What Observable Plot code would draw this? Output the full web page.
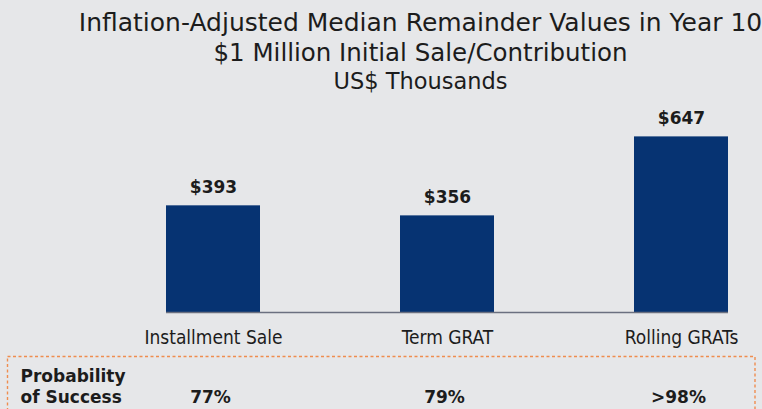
<!DOCTYPE html>
<html>
<head>
<meta charset="utf-8">
<script src="https://cdn.jsdelivr.net/npm/d3@7"></script>
<script src="https://cdn.jsdelivr.net/npm/@observablehq/plot@0.6"></script>
<style>
  html, body { margin: 0; padding: 0; background: #e6e7e9; overflow: hidden; }
  #chart { width: 762px; height: 409px; }
</style>
</head>
<body>
<div id="chart"></div>
<script>
const titleLines = ["Inflation-Adjusted Median Remainder Values in Year 10", "$1 Million Initial Sale/Contribution", "US$ Thousands"];
const categories = ["Installment Sale", "Term GRAT", "Rolling GRATs"];
const values = [393, 356, 647];
const probabilities = ["77%", "79%", ">98%"];
const probabilityLabel = "Probability\nof Success";

const data = categories.map((c, i) => ({cat: c, value: values[i], prob: probabilities[i]}));

const condensed = "'DejaVu Sans Condensed', 'DejaVu Sans', sans-serif";
const regular = "'DejaVu Sans', Verdana, sans-serif";
const bold = "'DejaVu Sans', Verdana, sans-serif";
const ink = "#1c1c1c";

const plot = Plot.plot({
  width: 762,
  height: 409,
  marginLeft: 166,
  marginRight: 34,
  marginTop: 122,
  marginBottom: 97,
  style: {background: "#e6e7e9", fontFamily: condensed, color: ink, overflow: "visible"},
  x: {domain: categories, paddingInner: 0.6, paddingOuter: 0, axis: null},
  y: {domain: [0, 700], axis: null},
  marks: [
    Plot.barY(data, {x: "cat", y: "value", fill: "#063372"}),
    Plot.ruleY([0], {stroke: "#6b7080", strokeWidth: 1.5}),
    Plot.text(data, {x: "cat", y: "value", text: d => "$" + d.value, dy: -13, lineAnchor: "bottom",
      fontFamily: bold, fontWeight: "bold", fontSize: 17, fill: ink}),
    Plot.text(data, {x: "cat", text: "cat", frameAnchor: "bottom", dy: 31, lineAnchor: "bottom",
      fontSize: 19, fill: ink}),
    Plot.text(data, {x: "cat", text: "prob", frameAnchor: "bottom", dy: 90, dx: -3, lineAnchor: "bottom",
      fontFamily: bold, fontWeight: "bold", fontSize: 17, fill: ink}),
    Plot.text([probabilityLabel], {frameAnchor: "bottom-left", dx: -146, dy: 90, lineAnchor: "bottom",
      textAnchor: "start", lineHeight: 1.2, fontFamily: bold, fontWeight: "bold", fontSize: 17, fill: ink}),
    Plot.text([titleLines[0]], {frameAnchor: "top", dx: -27, dy: -92, lineAnchor: "bottom", fontFamily: regular, fontSize: 25, fill: ink}),
    Plot.text([titleLines[1]], {frameAnchor: "top", dx: -27, dy: -62, lineAnchor: "bottom", fontFamily: regular, fontSize: 24.5, fill: ink}),
    Plot.text([titleLines[2]], {frameAnchor: "top", dx: -27, dy: -34, lineAnchor: "bottom", fontFamily: regular, fontSize: 22.5, fill: ink})
  ]
});

d3.select(plot).insert("rect", ":first-child")
  .attr("x", 7.5).attr("y", 356.5).attr("width", 747.5).attr("height", 80)
  .attr("fill", "none").attr("stroke", "#ef8d4f").attr("stroke-width", 1.4)
  .attr("stroke-dasharray", "3,2.5");

document.getElementById("chart").append(plot);
</script>
</body>
</html>
